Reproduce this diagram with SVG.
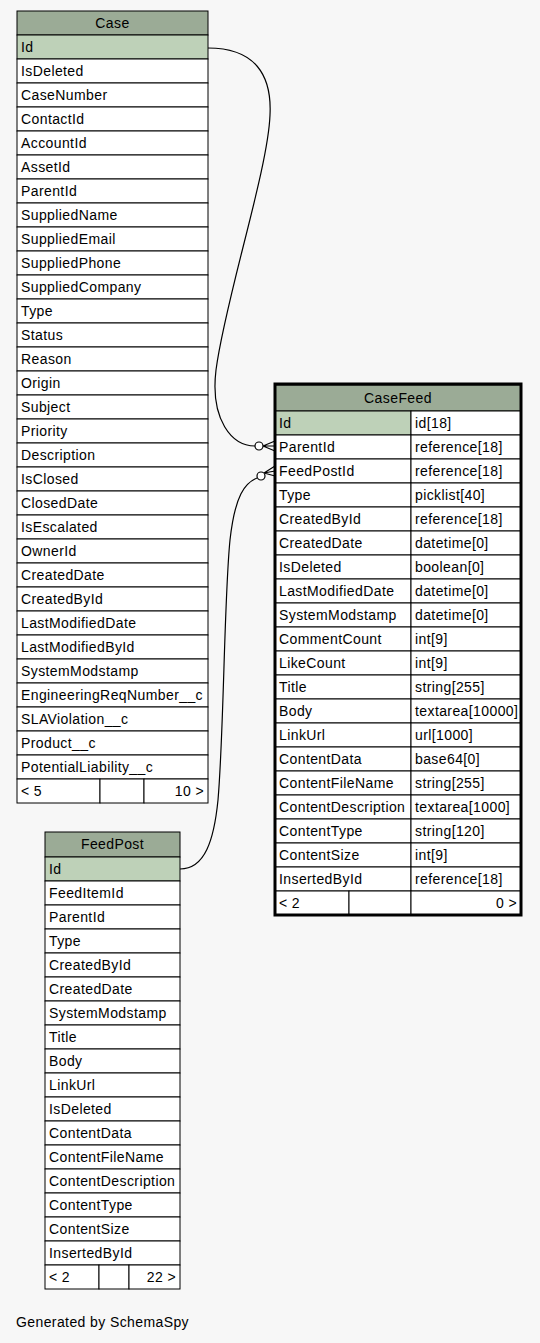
<svg xmlns="http://www.w3.org/2000/svg" width="540" height="1343" viewBox="0 0 540 1343">
<style>
text{font-family:"Liberation Sans",Arial,Helvetica,sans-serif;font-size:14px;letter-spacing:0.4px;fill:#000}
.h{fill:#9bab96;stroke:#000;stroke-width:1}
.pk{fill:#bed1b8;stroke:#000;stroke-width:1}
.c{fill:#fff;stroke:#000;stroke-width:1}
.m{text-anchor:middle}
.r{text-anchor:end}
.e{fill:none;stroke:#000;stroke-width:1.2}
.o{fill:#fff;stroke:#000;stroke-width:1.2}
</style>
<rect width="540" height="1343" fill="#f7f7f7"/>
<g id="Case">
<rect class="h" x="17" y="11" width="191" height="24"/><text class="m" x="112.5" y="28">Case</text>
<rect class="pk" x="17" y="35" width="191" height="24"/><text x="21" y="52">Id</text>
<rect class="c" x="17" y="59" width="191" height="24"/><text x="21" y="76">IsDeleted</text>
<rect class="c" x="17" y="83" width="191" height="24"/><text x="21" y="100">CaseNumber</text>
<rect class="c" x="17" y="107" width="191" height="24"/><text x="21" y="124">ContactId</text>
<rect class="c" x="17" y="131" width="191" height="24"/><text x="21" y="148">AccountId</text>
<rect class="c" x="17" y="155" width="191" height="24"/><text x="21" y="172">AssetId</text>
<rect class="c" x="17" y="179" width="191" height="24"/><text x="21" y="196">ParentId</text>
<rect class="c" x="17" y="203" width="191" height="24"/><text x="21" y="220">SuppliedName</text>
<rect class="c" x="17" y="227" width="191" height="24"/><text x="21" y="244">SuppliedEmail</text>
<rect class="c" x="17" y="251" width="191" height="24"/><text x="21" y="268">SuppliedPhone</text>
<rect class="c" x="17" y="275" width="191" height="24"/><text x="21" y="292">SuppliedCompany</text>
<rect class="c" x="17" y="299" width="191" height="24"/><text x="21" y="316">Type</text>
<rect class="c" x="17" y="323" width="191" height="24"/><text x="21" y="340">Status</text>
<rect class="c" x="17" y="347" width="191" height="24"/><text x="21" y="364">Reason</text>
<rect class="c" x="17" y="371" width="191" height="24"/><text x="21" y="388">Origin</text>
<rect class="c" x="17" y="395" width="191" height="24"/><text x="21" y="412">Subject</text>
<rect class="c" x="17" y="419" width="191" height="24"/><text x="21" y="436">Priority</text>
<rect class="c" x="17" y="443" width="191" height="24"/><text x="21" y="460">Description</text>
<rect class="c" x="17" y="467" width="191" height="24"/><text x="21" y="484">IsClosed</text>
<rect class="c" x="17" y="491" width="191" height="24"/><text x="21" y="508">ClosedDate</text>
<rect class="c" x="17" y="515" width="191" height="24"/><text x="21" y="532">IsEscalated</text>
<rect class="c" x="17" y="539" width="191" height="24"/><text x="21" y="556">OwnerId</text>
<rect class="c" x="17" y="563" width="191" height="24"/><text x="21" y="580">CreatedDate</text>
<rect class="c" x="17" y="587" width="191" height="24"/><text x="21" y="604">CreatedById</text>
<rect class="c" x="17" y="611" width="191" height="24"/><text x="21" y="628">LastModifiedDate</text>
<rect class="c" x="17" y="635" width="191" height="24"/><text x="21" y="652">LastModifiedById</text>
<rect class="c" x="17" y="659" width="191" height="24"/><text x="21" y="676">SystemModstamp</text>
<rect class="c" x="17" y="683" width="191" height="24"/><text x="21" y="700">EngineeringReqNumber__c</text>
<rect class="c" x="17" y="707" width="191" height="24"/><text x="21" y="724">SLAViolation__c</text>
<rect class="c" x="17" y="731" width="191" height="24"/><text x="21" y="748">Product__c</text>
<rect class="c" x="17" y="755" width="191" height="24"/><text x="21" y="772">PotentialLiability__c</text>
<rect class="c" x="17" y="779" width="83" height="24"/><rect class="c" x="100" y="779" width="44" height="24"/><rect class="c" x="144" y="779" width="64" height="24"/>
<text x="21" y="796">&lt; 5</text><text class="r" x="204" y="796">10 &gt;</text>
</g>
<g id="CaseFeed">
<rect class="h" x="275" y="385" width="246" height="26"/><text class="m" x="398" y="403">CaseFeed</text>
<rect class="pk" x="275" y="411" width="136" height="24"/><rect class="c" x="411" y="411" width="110" height="24"/><text x="279" y="428">Id</text><text x="415" y="428">id[18]</text>
<rect class="c" x="275" y="435" width="136" height="24"/><rect class="c" x="411" y="435" width="110" height="24"/><text x="279" y="452">ParentId</text><text x="415" y="452">reference[18]</text>
<rect class="c" x="275" y="459" width="136" height="24"/><rect class="c" x="411" y="459" width="110" height="24"/><text x="279" y="476">FeedPostId</text><text x="415" y="476">reference[18]</text>
<rect class="c" x="275" y="483" width="136" height="24"/><rect class="c" x="411" y="483" width="110" height="24"/><text x="279" y="500">Type</text><text x="415" y="500">picklist[40]</text>
<rect class="c" x="275" y="507" width="136" height="24"/><rect class="c" x="411" y="507" width="110" height="24"/><text x="279" y="524">CreatedById</text><text x="415" y="524">reference[18]</text>
<rect class="c" x="275" y="531" width="136" height="24"/><rect class="c" x="411" y="531" width="110" height="24"/><text x="279" y="548">CreatedDate</text><text x="415" y="548">datetime[0]</text>
<rect class="c" x="275" y="555" width="136" height="24"/><rect class="c" x="411" y="555" width="110" height="24"/><text x="279" y="572">IsDeleted</text><text x="415" y="572">boolean[0]</text>
<rect class="c" x="275" y="579" width="136" height="24"/><rect class="c" x="411" y="579" width="110" height="24"/><text x="279" y="596">LastModifiedDate</text><text x="415" y="596">datetime[0]</text>
<rect class="c" x="275" y="603" width="136" height="24"/><rect class="c" x="411" y="603" width="110" height="24"/><text x="279" y="620">SystemModstamp</text><text x="415" y="620">datetime[0]</text>
<rect class="c" x="275" y="627" width="136" height="24"/><rect class="c" x="411" y="627" width="110" height="24"/><text x="279" y="644">CommentCount</text><text x="415" y="644">int[9]</text>
<rect class="c" x="275" y="651" width="136" height="24"/><rect class="c" x="411" y="651" width="110" height="24"/><text x="279" y="668">LikeCount</text><text x="415" y="668">int[9]</text>
<rect class="c" x="275" y="675" width="136" height="24"/><rect class="c" x="411" y="675" width="110" height="24"/><text x="279" y="692">Title</text><text x="415" y="692">string[255]</text>
<rect class="c" x="275" y="699" width="136" height="24"/><rect class="c" x="411" y="699" width="110" height="24"/><text x="279" y="716">Body</text><text x="415" y="716">textarea[10000]</text>
<rect class="c" x="275" y="723" width="136" height="24"/><rect class="c" x="411" y="723" width="110" height="24"/><text x="279" y="740">LinkUrl</text><text x="415" y="740">url[1000]</text>
<rect class="c" x="275" y="747" width="136" height="24"/><rect class="c" x="411" y="747" width="110" height="24"/><text x="279" y="764">ContentData</text><text x="415" y="764">base64[0]</text>
<rect class="c" x="275" y="771" width="136" height="24"/><rect class="c" x="411" y="771" width="110" height="24"/><text x="279" y="788">ContentFileName</text><text x="415" y="788">string[255]</text>
<rect class="c" x="275" y="795" width="136" height="24"/><rect class="c" x="411" y="795" width="110" height="24"/><text x="279" y="812">ContentDescription</text><text x="415" y="812">textarea[1000]</text>
<rect class="c" x="275" y="819" width="136" height="24"/><rect class="c" x="411" y="819" width="110" height="24"/><text x="279" y="836">ContentType</text><text x="415" y="836">string[120]</text>
<rect class="c" x="275" y="843" width="136" height="24"/><rect class="c" x="411" y="843" width="110" height="24"/><text x="279" y="860">ContentSize</text><text x="415" y="860">int[9]</text>
<rect class="c" x="275" y="867" width="136" height="24"/><rect class="c" x="411" y="867" width="110" height="24"/><text x="279" y="884">InsertedById</text><text x="415" y="884">reference[18]</text>
<rect class="c" x="275" y="891" width="74" height="24"/><rect class="c" x="349" y="891" width="62" height="24"/><rect class="c" x="411" y="891" width="110" height="24"/>
<text x="279" y="908">&lt; 2</text><text class="r" x="517" y="908">0 &gt;</text>
<rect x="275" y="384" width="246" height="531" fill="none" stroke="#000" stroke-width="3"/>
</g>
<g id="FeedPost">
<rect class="h" x="45" y="832" width="135" height="25"/><text class="m" x="112.5" y="849">FeedPost</text>
<rect class="pk" x="45" y="857" width="135" height="24"/><text x="49" y="874">Id</text>
<rect class="c" x="45" y="881" width="135" height="24"/><text x="49" y="898">FeedItemId</text>
<rect class="c" x="45" y="905" width="135" height="24"/><text x="49" y="922">ParentId</text>
<rect class="c" x="45" y="929" width="135" height="24"/><text x="49" y="946">Type</text>
<rect class="c" x="45" y="953" width="135" height="24"/><text x="49" y="970">CreatedById</text>
<rect class="c" x="45" y="977" width="135" height="24"/><text x="49" y="994">CreatedDate</text>
<rect class="c" x="45" y="1001" width="135" height="24"/><text x="49" y="1018">SystemModstamp</text>
<rect class="c" x="45" y="1025" width="135" height="24"/><text x="49" y="1042">Title</text>
<rect class="c" x="45" y="1049" width="135" height="24"/><text x="49" y="1066">Body</text>
<rect class="c" x="45" y="1073" width="135" height="24"/><text x="49" y="1090">LinkUrl</text>
<rect class="c" x="45" y="1097" width="135" height="24"/><text x="49" y="1114">IsDeleted</text>
<rect class="c" x="45" y="1121" width="135" height="24"/><text x="49" y="1138">ContentData</text>
<rect class="c" x="45" y="1145" width="135" height="24"/><text x="49" y="1162">ContentFileName</text>
<rect class="c" x="45" y="1169" width="135" height="24"/><text x="49" y="1186">ContentDescription</text>
<rect class="c" x="45" y="1193" width="135" height="24"/><text x="49" y="1210">ContentType</text>
<rect class="c" x="45" y="1217" width="135" height="24"/><text x="49" y="1234">ContentSize</text>
<rect class="c" x="45" y="1241" width="135" height="24"/><text x="49" y="1258">InsertedById</text>
<rect class="c" x="45" y="1265" width="54" height="24"/><rect class="c" x="99" y="1265" width="30" height="24"/><rect class="c" x="129" y="1265" width="51" height="24"/>
<text x="49" y="1282">&lt; 2</text><text class="r" x="176" y="1282">22 &gt;</text>
</g>
<g id="connectors">
<path class="e" d="M208,48 C255,48 272,75 270,115 C268,170 225,300 216,370 C210,420 232,446 255,446"/>
<path class="e" d="M263,446 L275,441 M263,446 L275,446 M263,446 L275,451"/>
<circle class="o" cx="259" cy="446" r="4"/>
<path class="e" d="M180,869 C205,869 214,840 218,800 C224,730 224,600 230,540 C235,495 245,483 257,478"/>
<path class="e" d="M264,473 L275,466 M264,473 L275,471 M264,473 L275,476"/>
<circle class="o" cx="261" cy="476" r="4"/>
</g>
<text x="16" y="1327">Generated by SchemaSpy</text>
</svg>
